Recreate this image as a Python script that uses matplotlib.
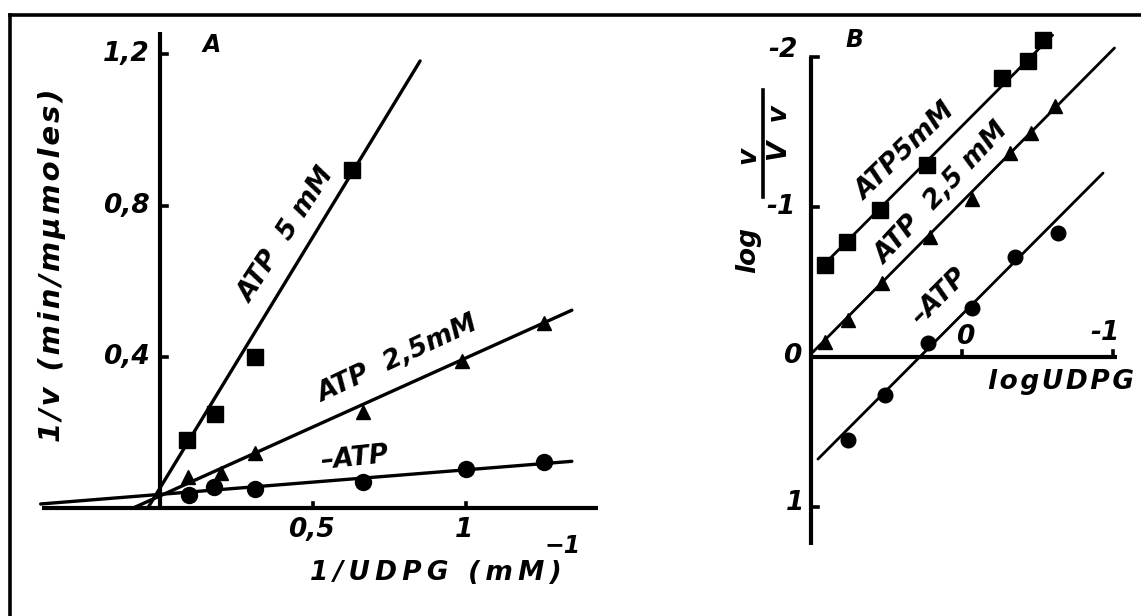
import numpy as np
import matplotlib
matplotlib.use("Agg")
import matplotlib.pyplot as plt
from matplotlib.lines import Line2D

# ---------------- Panel A: double-reciprocal plot ----------------
inv_udpg_atp5 = [0.088, 0.18, 0.31, 0.627]
inv_v_atp5 = [0.18, 0.25, 0.40, 0.894]

inv_udpg_atp25 = [0.092, 0.20, 0.31, 0.663, 0.987, 1.255]
inv_v_atp25 = [0.082, 0.093, 0.145, 0.254, 0.39, 0.49]

inv_udpg_noatp = [0.095, 0.176, 0.31, 0.663, 1.0, 1.255]
inv_v_noatp = [0.034, 0.056, 0.05, 0.069, 0.103, 0.122]

# fitted lines: (slope, intercept, x start, x end)
fit_a_atp5 = (1.329, 0.053, -0.04, 0.85)
fit_a_atp25 = (0.365, 0.032, -0.088, 1.346)
fit_a_noatp = (0.065, 0.036, -0.39, 1.346)

a_xticks = [0.5, 1.0]
a_xticklabels = ["0,5", "1"]
a_yticks = [0.4, 0.8, 1.2]
a_yticklabels = ["0,4", "0,8", "1,2"]

# ---------------- Panel B: Hill plot ----------------
log_udpg_atp5 = [0.907, 0.762, 0.543, 0.232, -0.265, -0.437, -0.537]
hill_atp5 = [-0.613, -0.767, -0.98, -1.28, -1.86, -1.97, -2.11]

log_udpg_atp25 = [0.907, 0.755, 0.53, 0.21, -0.066, -0.318, -0.46, -0.616]
hill_atp25 = [-0.10, -0.247, -0.49, -0.80, -1.05, -1.36, -1.49, -1.67]

log_udpg_noatp = [0.755, 0.51, 0.225, -0.066, -0.35, -0.636]
hill_noatp = [0.553, 0.253, -0.093, -0.327, -0.667, -0.827]

fit_b_atp5 = (1.01, -1.54, 0.94, -0.60)
fit_b_atp25 = (1.015, -1.035, 0.99, -1.01)
fit_b_noatp = (1.01, -0.283, 0.954, -0.934)

b_xticks = [0.0, -1.0]
b_xticklabels = ["0", "-1"]
b_yticks = [-2.0, -1.0, 0.0, 1.0]
b_yticklabels = ["-2", "-1", "0", "1"]

# ---------------- layout ----------------
W, H = 1141, 616
fig = plt.figure(figsize=(W / 100, H / 100), dpi=100)
fig.patch.set_facecolor("white")

FONT = dict(family="DejaVu Sans", style="italic", weight="bold", color="black")


def spaced(s, gap="\u200a"):
    """Open up the letter spacing of a label."""
    return gap.join(s)


def px_axes(left, top, right, bottom):
    return fig.add_axes([left / W, 1 - bottom / H, (right - left) / W, (bottom - top) / H])


def draw_fit(ax, fit, lw=2.4):
    slope, icpt, x0, x1 = fit
    xs = np.array([x0, x1])
    ax.plot(xs, slope * xs + icpt, color="black", lw=lw, solid_capstyle="round", clip_on=False, zorder=2)


# outer frame (top and left edges)
fig.add_artist(Line2D([10 / W, 1.0], [1 - 15 / H, 1 - 15 / H], transform=fig.transFigure, color="black", lw=2.6))
fig.add_artist(Line2D([10 / W, 10 / W], [1 - 15 / H, 0.0], transform=fig.transFigure, color="black", lw=2.6))

# ---- Panel A ----
ax_a = px_axes(25, 20, 620, 525)
a_x0, a_sx, a_y0, a_sy = 160, 306.0, 508, 378.0   # pixel origin and pixels per unit
ax_a.set_xlim((25 - a_x0) / a_sx, (620 - a_x0) / a_sx)
ax_a.set_ylim((a_y0 - 525) / a_sy, (a_y0 - 20) / a_sy)
ax_a.axis("off")

ax_a.plot([-0.386, 1.43], [0, 0], color="black", lw=3, clip_on=False, solid_capstyle="butt")
ax_a.plot([0, 0], [0, 1.259], color="black", lw=3, clip_on=False, solid_capstyle="butt")
for v in a_yticks:
    ax_a.plot([0, 7 / a_sx], [v, v], color="black", lw=2.6, clip_on=False)
for v in a_xticks:
    ax_a.plot([v, v], [0, 5 / a_sy], color="black", lw=2.6, clip_on=False)
for v, lab in zip(a_yticks, a_yticklabels):
    ax_a.text(-10 / a_sx, v, lab, ha="right", va="center", fontsize=19, **FONT)
for v, lab in zip(a_xticks, a_xticklabels):
    ax_a.text(v - 2 / a_sx, -22 / a_sy, lab, ha="center", va="center", fontsize=19, **FONT)

draw_fit(ax_a, fit_a_atp5)
draw_fit(ax_a, fit_a_atp25)
draw_fit(ax_a, fit_a_noatp)
ax_a.plot(inv_udpg_atp5, inv_v_atp5, "s", color="black", ms=11, clip_on=False, zorder=3)
ax_a.plot(inv_udpg_atp25, inv_v_atp25, "^", color="black", ms=10, clip_on=False, zorder=3)
ax_a.plot(inv_udpg_noatp, inv_v_noatp, "o", color="black", ms=11.5, clip_on=False, zorder=3)

ax_a.text(0.415, 0.722, "ATP  5 mM", rotation=57, ha="center", va="center", fontsize=19, **FONT)
ax_a.text(0.778, 0.394, "ATP  2,5mM", rotation=25, ha="center", va="center", fontsize=19, **FONT)
ax_a.text(0.637, 0.132, "\u2013ATP", rotation=6, ha="center", va="center", fontsize=19, **FONT)
ax_a.text(0.17, 1.226, "A", ha="center", va="center", fontsize=17, **FONT)

ax_a.text((436 - a_x0) / a_sx, (a_y0 - 573) / a_sy, spaced("1/UDPG (mM)", "\u2009"),
          ha="center", va="center", fontsize=19, **FONT)
ax_a.text((563 - a_x0) / a_sx, (a_y0 - 546) / a_sy, "\u22121", ha="center", va="center", fontsize=17, **FONT)
ax_a.text((52 - a_x0) / a_sx, (a_y0 - 265) / a_sy, spaced("1/v (min/m\u03bcmoles)"), rotation=90,
          ha="center", va="center", fontsize=21, **FONT)

# ---- Panel B ----
ax_b = px_axes(790, 25, 1135, 560)
b_x0, b_sx, b_y0, b_sy = 962, 151.0, 357, 150.0   # x grows leftwards, y grows downwards
ax_b.set_xlim((b_x0 - 790) / b_sx, (b_x0 - 1135) / b_sx)
ax_b.set_ylim((560 - b_y0) / b_sy, (25 - b_y0) / b_sy)
ax_b.axis("off")

b_yaxis_x = (b_x0 - 811) / b_sx
ax_b.plot([b_yaxis_x, b_yaxis_x], [1.253, -2.0], color="black", lw=3, clip_on=False, solid_capstyle="butt")
ax_b.plot([b_yaxis_x, -1.026], [0, 0], color="black", lw=3, clip_on=False, solid_capstyle="butt")
for v in [-2.0, -1.0, 1.0]:
    ax_b.plot([b_yaxis_x, b_yaxis_x - 7 / b_sx], [v, v], color="black", lw=2.6, clip_on=False)
for v in b_xticks:
    ax_b.plot([v, v], [0, -6 / b_sy], color="black", lw=2.6, clip_on=False)

tick_pos_b = {"-2": (783, 50), "-1": (781, 207), "0": (792, 356), "1": (795, 503)}
for v, lab in zip(b_yticks, b_yticklabels):
    px, py = tick_pos_b[lab]
    ax_b.text((b_x0 - px) / b_sx, v + (py - (b_y0 + v * b_sy)) / b_sy, lab,
              ha="center", va="center", fontsize=19, **FONT)
ax_b.text(0.0 - 3 / b_sx, -20 / b_sy, b_xticklabels[0], ha="center", va="center", fontsize=19, **FONT)
ax_b.text(-1.0 + 8 / b_sx, -24 / b_sy, b_xticklabels[1], ha="center", va="center", fontsize=19, **FONT)

draw_fit(ax_b, fit_b_atp5, lw=2.0)
draw_fit(ax_b, fit_b_atp25, lw=2.0)
draw_fit(ax_b, fit_b_noatp, lw=2.0)
ax_b.plot(log_udpg_atp5, hill_atp5, "s", color="black", ms=11, clip_on=False, zorder=3)
ax_b.plot(log_udpg_atp25, hill_atp25, "^", color="black", ms=10, clip_on=False, zorder=3)
ax_b.plot(log_udpg_noatp, hill_noatp, "o", color="black", ms=10.5, clip_on=False, zorder=3)

ax_b.text((b_x0 - 906) / b_sx, (152 - b_y0) / b_sy, "ATP5mM", rotation=44, ha="center", va="center", fontsize=19, **FONT)
ax_b.text((b_x0 - 942) / b_sx, (194 - b_y0) / b_sy, "ATP  2,5 mM", rotation=47, ha="center", va="center", fontsize=19, **FONT)
ax_b.text((b_x0 - 940) / b_sx, (297 - b_y0) / b_sy, "\u2013ATP", rotation=45, ha="center", va="center", fontsize=19, **FONT)
ax_b.text((b_x0 - 855) / b_sx, (40 - b_y0) / b_sy, "B", ha="center", va="center", fontsize=17, **FONT)
ax_b.text((b_x0 - 1061) / b_sx, (382 - b_y0) / b_sy, spaced("logUDPG"), ha="center", va="center", fontsize=19, **FONT)

# y label of panel B: log v/(V v), rotated
ax_b.text((b_x0 - 748) / b_sx, (250 - b_y0) / b_sy, "log", rotation=90, ha="center", va="center", fontsize=19, **FONT)
ax_b.text((b_x0 - 748) / b_sx, (155 - b_y0) / b_sy, "v", rotation=90, ha="center", va="center", fontsize=19, **FONT)
ax_b.plot([(b_x0 - 763) / b_sx] * 2, [(90 - b_y0) / b_sy, (197 - b_y0) / b_sy], color="black", lw=2.6, clip_on=False)
ax_b.text((b_x0 - 780) / b_sx, (133 - b_y0) / b_sy, "V  v", rotation=90, ha="center", va="center", fontsize=19, **FONT)

fig.savefig("out.png", dpi=100, facecolor="white")
